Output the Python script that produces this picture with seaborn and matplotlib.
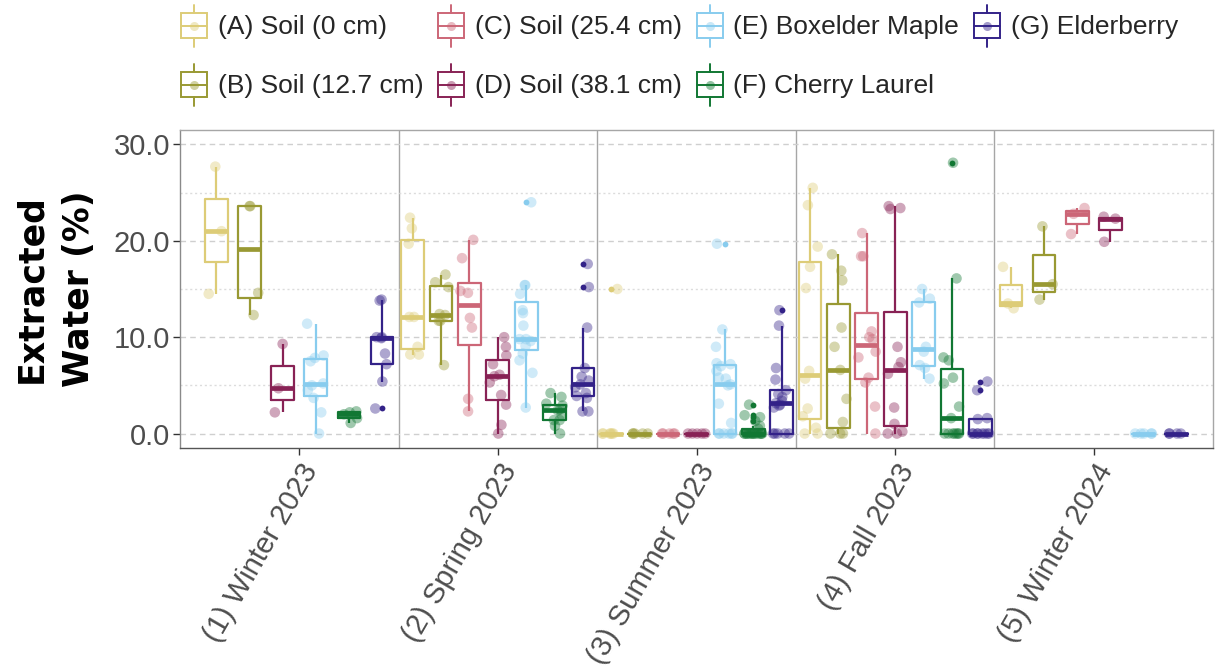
import numpy as np
import pandas as pd
import matplotlib
matplotlib.use("Agg")
import matplotlib.pyplot as plt
import seaborn as sns
from matplotlib.legend_handler import HandlerBase
from matplotlib.patches import Rectangle, Patch
from matplotlib.lines import Line2D
from matplotlib.ticker import FormatStrFormatter

# ---------------- data ----------------
seasons = ["(1) Winter 2023", "(2) Spring 2023", "(3) Summer 2023",
           "(4) Fall 2023", "(5) Winter 2024"]
groups = ["(A) Soil (0 cm)", "(B) Soil (12.7 cm)", "(C) Soil (25.4 cm)",
          "(D) Soil (38.1 cm)", "(E) Boxelder Maple", "(F) Cherry Laurel",
          "(G) Elderberry"]
colors = ["#DDCC77", "#999933", "#CC6677", "#882255", "#88CCEE", "#117733", "#332288"]

# extracted water (%) per season; None = not sampled that season
soil_0cm = [
    [14.5, 21.0, 27.7],
    [8.2, 8.2, 9.0, 12.1, 12.1, 19.7, 21.3, 22.4],
    [0, 0, 0, 0, 0, 0, 15.0],
    [0, 0, 0.6, 1.8, 2.6, 5.7, 6.5, 15.1, 17.3, 19.4, 23.7, 25.5],
    [13.0, 13.5, 17.3],
]
soil_12cm = [
    [12.3, 14.6, 23.6, 23.6],
    [7.1, 11.7, 11.7, 12.3, 12.4, 15.2, 15.7, 16.5],
    [0, 0, 0, 0, 0],
    [0, 0, 0, 1.2, 3.6, 6.6, 9.0, 11.0, 15.9, 16.9, 18.6],
    [13.9, 15.5, 21.5],
]
soil_25cm = [
    None,
    [2.3, 3.6, 11.0, 12.0, 14.6, 14.8, 18.2, 20.1],
    [0, 0, 0, 0, 0],
    [0, 2.8, 5.3, 5.8, 7.9, 8.5, 9.8, 10.0, 10.6, 18.4, 18.4, 20.8],
    [20.7, 22.8, 23.4],
]
soil_38cm = [
    [2.2, 4.7, 9.3],
    [0.0, 0.9, 3.0, 4.0, 5.3, 5.95, 6.1, 7.2, 8.1, 9.0, 10.0],
    [0, 0, 0, 0, 0],
    [0, 0, 0.2, 1.0, 2.7, 6.2, 6.9, 7.4, 9.0, 23.3, 23.4, 23.6],
    [19.9, 22.3, 22.5],
]
boxelder_maple = [
    [0.0, 2.2, 3.7, 4.5, 5.0, 5.2, 7.5, 7.85, 8.1, 11.4],
    [2.7, 6.3, 7.6, 8.3, 9.1, 9.6, 9.8, 9.8, 11.2, 12.5, 12.8, 14.5, 15.4, 15.4, 24.0],
    [0, 0, 0, 0, 0, 0, 1.1, 3.1, 5.0, 5.1, 5.7, 5.8, 6.5, 7.0, 7.2, 7.3, 9.0, 10.8, 19.7],
    [5.7, 6.8, 7.1, 8.5, 9.0, 13.6, 14.0, 15.0],
    [0, 0, 0, 0, 0],
]
cherry_laurel = [
    [1.1, 1.6, 2.0, 2.2, 2.3],
    [0.0, 0.8, 1.4, 1.4, 2.0, 2.4, 2.5, 2.9, 3.1, 3.8, 4.2],
    [0, 0, 0, 0, 0, 0, 0, 0, 0, 0, 0, 0, 0, 0, 0, 0.5, 0.8, 1.3, 1.7, 1.9, 3.0],
    [0, 0, 0, 0, 0, 0, 0, 1.6, 2.8, 5.2, 5.8, 7.6, 7.9, 16.1, 28.1],
    None,
]
elderberry = [
    [2.6, 5.4, 7.2, 8.3, 9.9, 10.0, 10.0, 13.8, 13.9],
    [2.3, 2.3, 3.7, 3.9, 4.2, 4.8, 5.1, 5.5, 5.9, 6.8, 11.0, 15.2, 17.6],
    [0, 0, 0, 0, 0, 2.7, 2.9, 3.0, 3.15, 3.4, 3.8, 4.1, 4.5, 5.6, 6.8, 11.2, 12.8],
    [0, 0, 0, 0, 0, 0, 0, 0, 1.5, 1.6, 4.5, 5.4],
    [0, 0, 0, 0],
]
series = [soil_0cm, soil_12cm, soil_25cm, soil_38cm, boxelder_maple,
          cherry_laurel, elderberry]

# ------------- long table, dodged only among groups present -------------
rows = []
for si, season in enumerate(seasons):
    present = [gi for gi in range(len(groups)) if series[gi][si] is not None]
    n = len(present)
    for rank, gi in enumerate(present):
        slot = si + (rank - (n - 1) / 2) / n
        for v in series[gi][si]:
            rows.append({"season": season, "group": groups[gi], "value": v, "slot": slot})
df = pd.DataFrame(rows)

# ---------------- plot ----------------
sns.set_style("white")
plt.rcParams["font.family"] = ["Liberation Sans", "DejaVu Sans"]

fig = plt.figure(figsize=(12.15, 6.72), dpi=100)
ax = fig.add_axes([180 / 1215, 1 - 448 / 672, (1213 - 180) / 1215, (448 - 130) / 672])

sns.boxplot(data=df, x="slot", y="value", hue="group", hue_order=groups,
            palette=colors, native_scale=True, dodge=False, fill=False,
            width=0.8, linewidth=1.6, showcaps=False, whis=1.5,
            flierprops=dict(marker="o", markersize=4.2, markeredgewidth=0),
            medianprops=dict(linewidth=3.4),
            legend=False, ax=ax)
# solid outlier dots
for ln in ax.lines:
    if ln.get_marker() not in (None, "None", "", " ") and ln.get_linestyle() in ("None", "", " "):
        ln.set_markerfacecolor(ln.get_markeredgecolor())

np.random.seed(7)
sns.stripplot(data=df, x="slot", y="value", hue="group", hue_order=groups,
              palette=colors, native_scale=True, dodge=False, jitter=0.32,
              size=7.6, alpha=0.4, linewidth=0, legend=False, ax=ax, zorder=3)

ax.set_xlim(-0.6, 4.6)
ax.set_ylim(-1.5, 31.5)
ax.set_xticks(range(len(seasons)))
ax.set_xticklabels(seasons, rotation=60, ha="right", va="top",
                   rotation_mode="anchor", fontsize=21, color="#4d4d4d")
ax.set_yticks([0, 10, 20, 30])
ax.set_yticks([5, 15, 25], minor=True)
ax.yaxis.set_major_formatter(FormatStrFormatter("%.1f"))
ax.tick_params(axis="y", which="major", labelsize=21, labelcolor="#4d4d4d",
               length=5, width=1, color="#333333", left=True, pad=2)
ax.tick_params(axis="y", which="minor", length=0)
ax.tick_params(axis="x", which="major", length=5, width=1, color="#333333",
               bottom=True, pad=3)
ax.grid(False)
ax.yaxis.grid(True, which="major", linestyle=(0, (4, 3)), color="#cfcfcf", linewidth=1)
ax.yaxis.grid(True, which="minor", linestyle=(0, (1.5, 2)), color="#dcdcdc", linewidth=1)
ax.set_axisbelow(True)
for b in np.arange(0.5, len(seasons) - 1, 1.0):
    ax.axvline(b, color="#a6a6a6", linewidth=1, zorder=0.5)
for side, col in [("top", "#a6a6a6"), ("right", "#a6a6a6"),
                  ("left", "#8a8a8a"), ("bottom", "#555555")]:
    ax.spines[side].set_color(col)
    ax.spines[side].set_linewidth(1)
ax.set_xlabel("")
ax.set_ylabel("Extracted\nWater (%)", fontsize=25, fontweight="bold",
              family=["DejaVu Sans"], color="black", labelpad=13, linespacing=1.5)


# ---------------- legend ----------------
class BoxIcon(HandlerBase):
    def create_artists(self, legend, orig_handle, xdescent, ydescent,
                       width, height, fontsize, trans):
        c = orig_handle.get_edgecolor()
        x0, y0 = -xdescent, -ydescent
        cx = x0 + width / 2
        bh = height * 0.6
        by = y0 + (height - bh) / 2
        rect = Rectangle((x0, by), width, bh, facecolor="white", edgecolor=c,
                         linewidth=1.4, transform=trans)
        w1 = Line2D([cx, cx], [y0, by], color=c, linewidth=1.4, transform=trans)
        w2 = Line2D([cx, cx], [by + bh, y0 + height], color=c, linewidth=1.4,
                    transform=trans)
        med = Line2D([x0, x0 + width], [y0 + height / 2] * 2, color=c,
                     linewidth=1.4, transform=trans)
        dot = Line2D([cx], [y0 + height / 2], marker="o", markersize=6.5,
                     color=c, alpha=0.45, linestyle="", markeredgewidth=0,
                     transform=trans)
        return [rect, w1, w2, med, dot]


handles = [Patch(edgecolor=c, facecolor="white", label=g) for g, c in zip(groups, colors)]
fig.legend(handles=handles, loc="upper left", bbox_to_anchor=(181 / 1215, 1 - 5 / 672),
           ncol=4, frameon=False, fontsize=19, handlelength=1.0, handleheight=2.05,
           handletextpad=0.4, columnspacing=0.55, labelspacing=0.66,
           borderpad=0, borderaxespad=0,
           handler_map={Patch: BoxIcon()})

fig.savefig("out.png", dpi=100)
